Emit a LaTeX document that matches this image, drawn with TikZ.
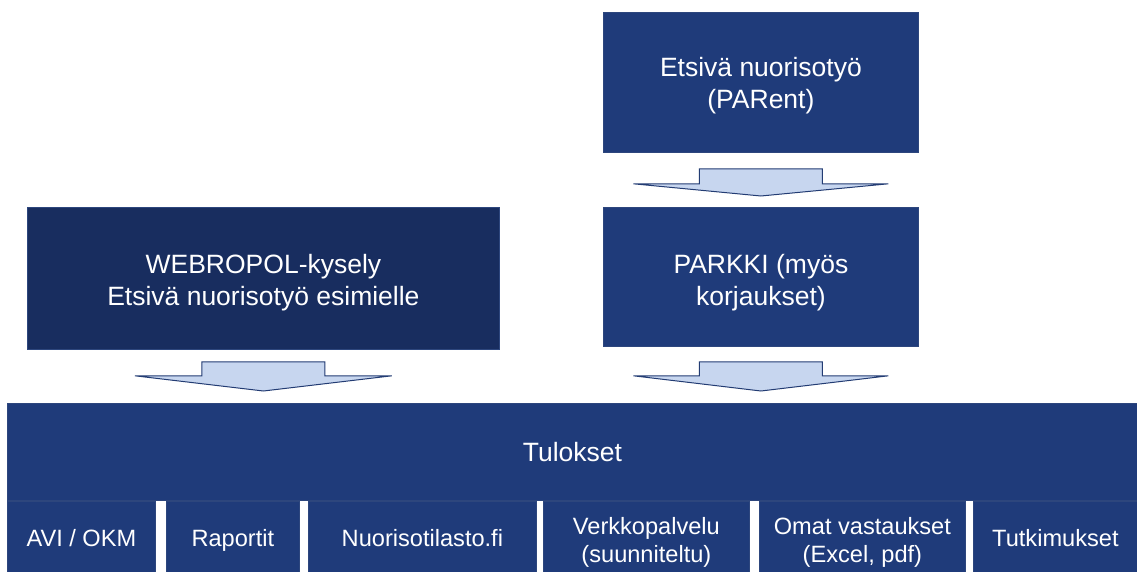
\documentclass[tikz,border=0pt]{standalone}
\usepackage{fontspec}
\setmainfont{Liberation Sans}
\usetikzlibrary{calc}
\definecolor{boxblue}{RGB}{31,59,122}
\definecolor{darkblue}{RGB}{24,45,95}
\definecolor{edgeblue}{RGB}{45,70,125}
\definecolor{arrowfill}{RGB}{199,214,239}
\definecolor{arrowedge}{RGB}{35,60,115}
\tikzset{
  box/.style={draw=edgeblue, line width=0.8pt, fill=boxblue, anchor=north west, inner sep=0pt},
  bigtext/.style={text=white, align=center, inner sep=0pt, font=\fontsize{26.5}{32}\selectfont},
  smalltext/.style={text=white, align=center, inner sep=0pt, font=\fontsize{23.6}{28}\selectfont},
  oneline/.style={smalltext, text height=17pt, text depth=5pt},
  blockarrow/.style={draw=arrowedge, line width=1pt, fill=arrowfill, line join=miter},
}
\begin{document}
\begin{tikzpicture}[x=1pt,y=-1pt]
\useasboundingbox (0,0) rectangle (1137,572);
% upper boxes
\node[box, minimum width=315, minimum height=140] (parent) at (603,12) {};
\node[bigtext] (parent-t) at ($(parent.center)+(0,3.5)$) {Etsivä nuorisotyö\\(PARent)};
\node[box, minimum width=315, minimum height=139] (parkki) at (603,207) {};
\node[bigtext] (parkki-t) at ($(parkki.center)+(0,6)$) {PARKKI (myös\\korjaukset)};
\node[box, fill=darkblue, minimum width=472, minimum height=142] (webropol) at (27,207) {};
\node[bigtext] (webropol-t) at ($(webropol.center)+(0,4)$) {WEBROPOL-kysely\\Etsivä nuorisotyö esimielle};
% results
\node[box, minimum width=1130, minimum height=97] (tulokset) at (7,403) {};
\node[bigtext, text height=19pt, text depth=6pt] (tulokset-t) at ($(tulokset.center)+(0,3)$) {Tulokset};
% bottom row
\node[box, minimum width=148, minimum height=72] (avi) at (7,501) {};
\node[oneline] (avi-t) at ($(avi.center)+(0,3)$) {AVI / OKM};
\node[box, minimum width=133, minimum height=72] (raportit) at (166,501) {};
\node[oneline] (raportit-t) at ($(raportit.center)+(0,3)$) {Raportit};
\node[box, minimum width=228, minimum height=72] (nuoriso) at (308,501) {};
\node[oneline] (nuoriso-t) at ($(nuoriso.center)+(0,3)$) {Nuorisotilasto.fi};
\node[box, minimum width=206, minimum height=72] (verkko) at (543,501) {};
\node[smalltext] (verkko-t) at ($(verkko.center)+(0,4.5)$) {Verkkopalvelu\\(suunniteltu)};
\node[box, minimum width=206, minimum height=72] (omat) at (759,501) {};
\node[smalltext] (omat-t) at ($(omat.center)+(0,4.5)$) {Omat vastaukset\\(Excel, pdf)};
\node[box, minimum width=164, minimum height=72] (tutk) at (973,501) {};
\node[oneline] (tutk-t) at ($(tutk.center)+(0,3)$) {Tutkimukset};
% block arrows (connectors)
\draw[blockarrow] ($(parent.south)+(-61.5,16)$) -- ($(parent.south)+(61.5,16)$) -- ($(parent.south)+(61.5,31)$)
  -- ($(parent.south)+(127.5,31)$) -- ($(parkki.north)+(0,-11)$) -- ($(parent.south)+(-127.5,31)$)
  -- ($(parent.south)+(-61.5,31)$) -- cycle;
\draw[blockarrow] ($(parkki.south)+(-61.5,15)$) -- ($(parkki.south)+(61.5,15)$) -- ($(parkki.south)+(61.5,29)$)
  -- ($(parkki.south)+(127.5,29)$) -- ($(parkki.south |- tulokset.north)+(0,-12)$) -- ($(parkki.south)+(-127.5,29)$)
  -- ($(parkki.south)+(-61.5,29)$) -- cycle;
\draw[blockarrow] ($(webropol.south)+(-61.5,12)$) -- ($(webropol.south)+(61.5,12)$) -- ($(webropol.south)+(61.5,26)$)
  -- ($(webropol.south)+(128.5,26)$) -- ($(webropol.south |- tulokset.north)+(0,-12)$) -- ($(webropol.south)+(-128.5,26)$)
  -- ($(webropol.south)+(-61.5,26)$) -- cycle;
\end{tikzpicture}
\end{document}
